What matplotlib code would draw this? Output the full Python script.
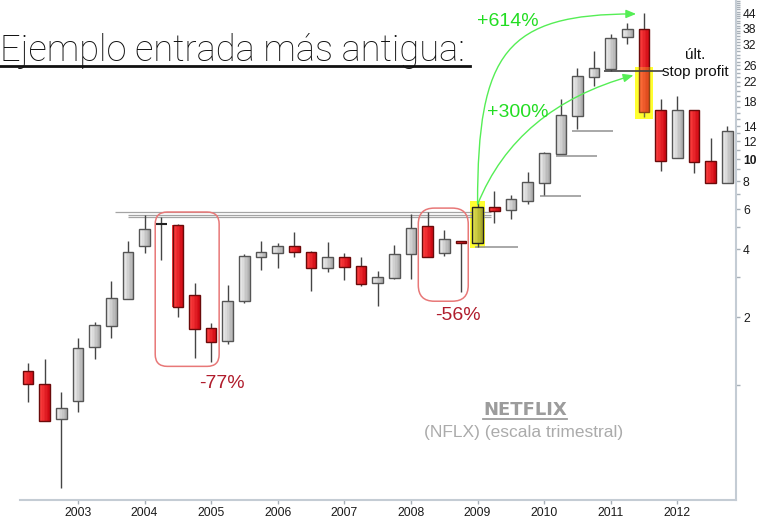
import numpy as np
import pandas as pd
import matplotlib
matplotlib.use("Agg")
import matplotlib.pyplot as plt
from matplotlib.patches import FancyBboxPatch, FancyArrowPatch, Rectangle
from matplotlib.path import Path
from matplotlib.transforms import IdentityTransform
from matplotlib.lines import Line2D
from matplotlib.colors import to_rgb

# quarterly NFLX candles (split adjusted)
quarters = pd.period_range("2002Q2", "2012Q4", freq="Q")
opens = [1.15, 1.01, 0.71, 0.85, 1.47, 1.82, 2.40, 4.12, 5.16, 5.11, 2.50, 1.79,
         1.57, 2.35, 3.69, 3.84, 4.12, 3.88, 3.30, 3.69, 3.36, 2.83, 2.98, 3.80,
         5.06, 3.84, 4.34, 4.25, 6.14, 5.95, 6.52, 7.84, 10.54, 15.5, 23.1, 25.1,
         34.7, 37.7, 16.5, 10.1, 16.5, 9.81, 7.84]
highs = [1.25, 1.30, 0.93, 1.61, 1.90, 2.89, 4.34, 5.66, 5.54, 5.16, 2.83, 1.88,
         2.77, 3.80, 4.34, 4.25, 4.76, 3.92, 4.30, 3.84, 3.69, 3.20, 4.17, 5.72,
         5.83, 4.85, 4.34, 6.39, 7.22, 6.94, 8.77, 10.75, 18.46, 25.3, 30.1, 35.8,
         40.1, 44.3, 18.5, 19.0, 16.5, 12.4, 14.0]
lows = [0.84, 0.69, 0.35, 0.76, 1.30, 1.61, 2.40, 3.84, 3.58, 2.00, 1.32, 1.26,
        1.52, 2.31, 3.23, 3.30, 3.69, 2.61, 3.16, 2.92, 2.74, 2.24, 2.95, 2.95,
        3.69, 3.72, 2.58, 4.08, 5.21, 5.43, 6.33, 6.94, 10.54, 13.6, 21.1, 24.6,
        32.3, 15.4, 8.86, 10.1, 8.68, 7.84, 7.84]
closes = [1.01, 0.69, 0.79, 1.46, 1.84, 2.43, 3.88, 4.90, 5.16, 2.21, 1.77, 1.55,
          2.35, 3.72, 3.88, 4.12, 3.88, 3.30, 3.69, 3.33, 2.80, 3.01, 3.80, 4.95,
          3.69, 4.43, 4.25, 6.14, 5.89, 6.66, 7.92, 10.64, 15.68, 23.3, 25.3, 34.4,
          37.7, 16.2, 9.81, 16.5, 9.71, 7.84, 13.3]

entry_q = "2009Q1"
exit_q = "2011Q3"

# resistance lines (price, start year)
resist_prices = [5.84, 5.66, 5.53]
resist_start = [2003.56, 2003.75, 2003.75]
resist_end = 2009.2

# trailing stops (price, from, to)
stop_prices = [4.08, 6.87, 10.3, 13.3, 24.6]
stop_from = [2008.96, 2009.94, 2010.18, 2010.42, 2010.90]
stop_to = [2009.60, 2010.56, 2010.80, 2011.04, 2011.79]

y_ticks = [2, 4, 6, 8, 10, 12, 14, 18, 22, 26, 32, 38, 44]
years = list(range(2003, 2013))

x = np.array([q.year + (q.quarter - 1) / 4 for q in quarters])
qnames = [str(q) for q in quarters]

fig = plt.figure(figsize=(7.6, 5.18), dpi=100)
ax = fig.add_axes([20 / 760, 18 / 518, 716 / 760, 500 / 518])
ax.set_yscale("log")
ax.set_xlim(2002.13, 2012.88)
ax.set_ylim(0.31, 50.6)
ax.set_facecolor("white")


def mix(c1, c2, t):
    a, b = np.array(to_rgb(c1)), np.array(to_rgb(c2))
    return a + (b - a) * t


def body(xc, lo, hi, cl, cr, ec, w=0.16, n=7):
    xs = xc - w / 2 + (np.arange(n) + 0.5) * w / n
    for k, xx in enumerate(xs):
        ax.bar(xx, hi - lo, width=w / n * 1.08, bottom=lo, color=mix(cl, cr, k / (n - 1)),
               linewidth=0, zorder=3)
    ax.bar(xc, hi - lo, width=w, bottom=lo, fill=False, edgecolor=ec, linewidth=1, zorder=4)


w = 0.16
for i in range(len(x)):
    o, h, l, c = opens[i], highs[i], lows[i], closes[i]
    ax.vlines(x[i], l, h, color="#454545", lw=1, zorder=2)
    if abs(c - o) / o < 0.005:
        ax.hlines(o, x[i] - w / 2, x[i] + w / 2, color="#202020", lw=1.5, zorder=4)
        continue
    lo, hi = min(o, c), max(o, c)
    if qnames[i] == entry_q:
        body(x[i], lo, hi, "#e0e050", "#a8a828", "#202020")
    elif c > o:
        body(x[i], lo, hi, "#f0f0f0", "#b0b0b0", "#555555")
    else:
        body(x[i], lo, hi, "#ff4040", "#d00a14", "#6a0a0a")

# yellow highlights
ie = qnames.index(entry_q)
ix = qnames.index(exit_q)
ax.add_patch(Rectangle((x[ie] - 0.11, 4.05), 0.22, 6.5 - 4.05, color="#ffff30", lw=0, zorder=1))
ax.add_patch(Rectangle((x[ix] - 0.13, 15.05), 0.26, 25.6 - 15.05, color="#ffff30", lw=0, zorder=1))
ax.add_patch(Rectangle((x[ix] - 0.13, 15.05), 0.26, 25.6 - 15.05, color="#ffff30", alpha=0.25,
                       lw=0, zorder=5))

# resistance and stop lines
for p, s in zip(resist_prices, resist_start):
    ax.hlines(p, s, resist_end, color="#a4a4a4", lw=0.9, zorder=1.5)
for k, (p, a, b) in enumerate(zip(stop_prices, stop_from, stop_to)):
    col = "#404040" if k == len(stop_prices) - 1 else "#9a9a9a"
    ax.hlines(p, a, b, color=col, lw=1.2, zorder=6 if k == len(stop_prices) - 1 else 1.5)

# rounded red boxes, drawn in pixels
T = ax.transData
def rbox(x0, x1, y0, y1, r):
    (px0, py0), (px1, py1) = T.transform([(x0, y0), (x1, y1)])
    ax.add_patch(FancyBboxPatch((px0, py0), px1 - px0, py1 - py0,
                                boxstyle="round,pad=0,rounding_size=%d" % r,
                                fill=False, edgecolor="#e87878", lw=1.1,
                                transform=IdentityTransform(), zorder=6))

rbox(2004.16, 2005.12, 1.21, 5.83, 12)
rbox(2008.11, 2008.86, 2.35, 6.07, 16)

# green arrows
green = "#55ee55"
p0 = T.transform((x[ie], highs[ie]))
p3 = T.transform((2011.38, 43.9))
c1 = (p0[0], p0[1] + 0.8 * (p3[1] - p0[1]))
c2 = (p0[0] + 0.18 * (p3[0] - p0[0]), p3[1])
path = Path([p0, c1, c2, p3], [Path.MOVETO, Path.CURVE4, Path.CURVE4, Path.CURVE4])
ax.add_patch(FancyArrowPatch(path=path, arrowstyle="-|>,head_length=6,head_width=2.5",
                             color=green, lw=1, transform=IdentityTransform(), zorder=7))
q0 = T.transform((x[ie], 6.3))
q2 = T.transform((2011.34, 23.5))
qc = (q0[0] + 0.25 * (q2[0] - q0[0]), q0[1] + 0.75 * (q2[1] - q0[1]))
path = Path([q0, qc, q2], [Path.MOVETO, Path.CURVE3, Path.CURVE3])
ax.add_patch(FancyArrowPatch(path=path, arrowstyle="-|>,head_length=6,head_width=2.5",
                             color=green, lw=1, transform=IdentityTransform(), zorder=7))

sans = "Liberation Sans"
ax.text(2009.45, 40.5, "+614%", color="#22dd22", fontsize=14, family=sans, ha="center", va="center", zorder=8)
ax.text(2009.60, 16.0, "+300%", color="#22dd22", fontsize=14, family=sans, ha="center", va="center", zorder=8)
ax.text(2005.16, 1.02, "-77%", color="#b01c2c", fontsize=14, family=sans, ha="center", va="center")
ax.text(2008.71, 2.04, "-56%", color="#b01c2c", fontsize=14, family=sans, ha="center", va="center")
ax.text(2012.27, 29.0, "últ.", color="#111111", fontsize=11, family=sans, ha="center", va="center", zorder=8)
ax.text(2012.27, 24.4, "stop profit", color="#111111", fontsize=11, family=sans, ha="center", va="center", zorder=8)

# axes styling
for s in ["left", "top"]:
    ax.spines[s].set_visible(False)
for s in ["right", "bottom"]:
    ax.spines[s].set_color("#c4ccd4")
    ax.spines[s].set_linewidth(1.5)
ax.yaxis.tick_right()
ax.set_yticks(y_ticks, [str(t) for t in y_ticks])
ax.set_yticks([v for v in range(1, 51) if v not in y_ticks], minor=True)
ax.yaxis.set_minor_formatter(plt.NullFormatter())
ax.set_xticks(years, [str(y) for y in years])
ax.set_xticks([], minor=True)
ax.tick_params(axis="both", which="both", length=3, width=1, color="#a8b0b8",
               labelsize=8.7, labelcolor="#1a1a1a", pad=2)
for lab in ax.get_yticklabels():
    lab.set_family(sans)
    if lab.get_text() == "10":
        lab.set_fontweight("bold")
for lab in ax.get_xticklabels():
    lab.set_family(sans)

# title and watermark
title = fig.text(0.0, 1 - 61 / 518, "Ejemplo entrada más antigua:", fontsize=28,
                 family="Roboto", fontweight=100, color="#111111", va="baseline", ha="left")
nf = fig.text(525 / 760, 1 - 410 / 518, "NETFLIX", fontsize=13, family="DejaVu Sans",
              fontweight="bold", color="#9c9c9c", ha="center", va="center")
fig.text(524 / 760, 1 - 433 / 518, "(NFLX) (escala trimestral)", fontsize=12.5, family=sans,
         color="#ababab", ha="center", va="center")
fig.canvas.draw()
r = fig.canvas.get_renderer()
bb = title.get_window_extent(r)
title.set_fontsize(28 * 466 / bb.width)
fig.add_artist(Line2D([0, 470 / 760], [1 - 66 / 518] * 2, transform=fig.transFigure,
                      color="#111111", lw=2))
bb = nf.get_window_extent(r)
fig.add_artist(Line2D([bb.x0 / 760, bb.x1 / 760], [1 - 419 / 518] * 2, transform=fig.transFigure,
                      color="#9c9c9c", lw=1.3))

fig.savefig("out.png", dpi=100, facecolor="white")
